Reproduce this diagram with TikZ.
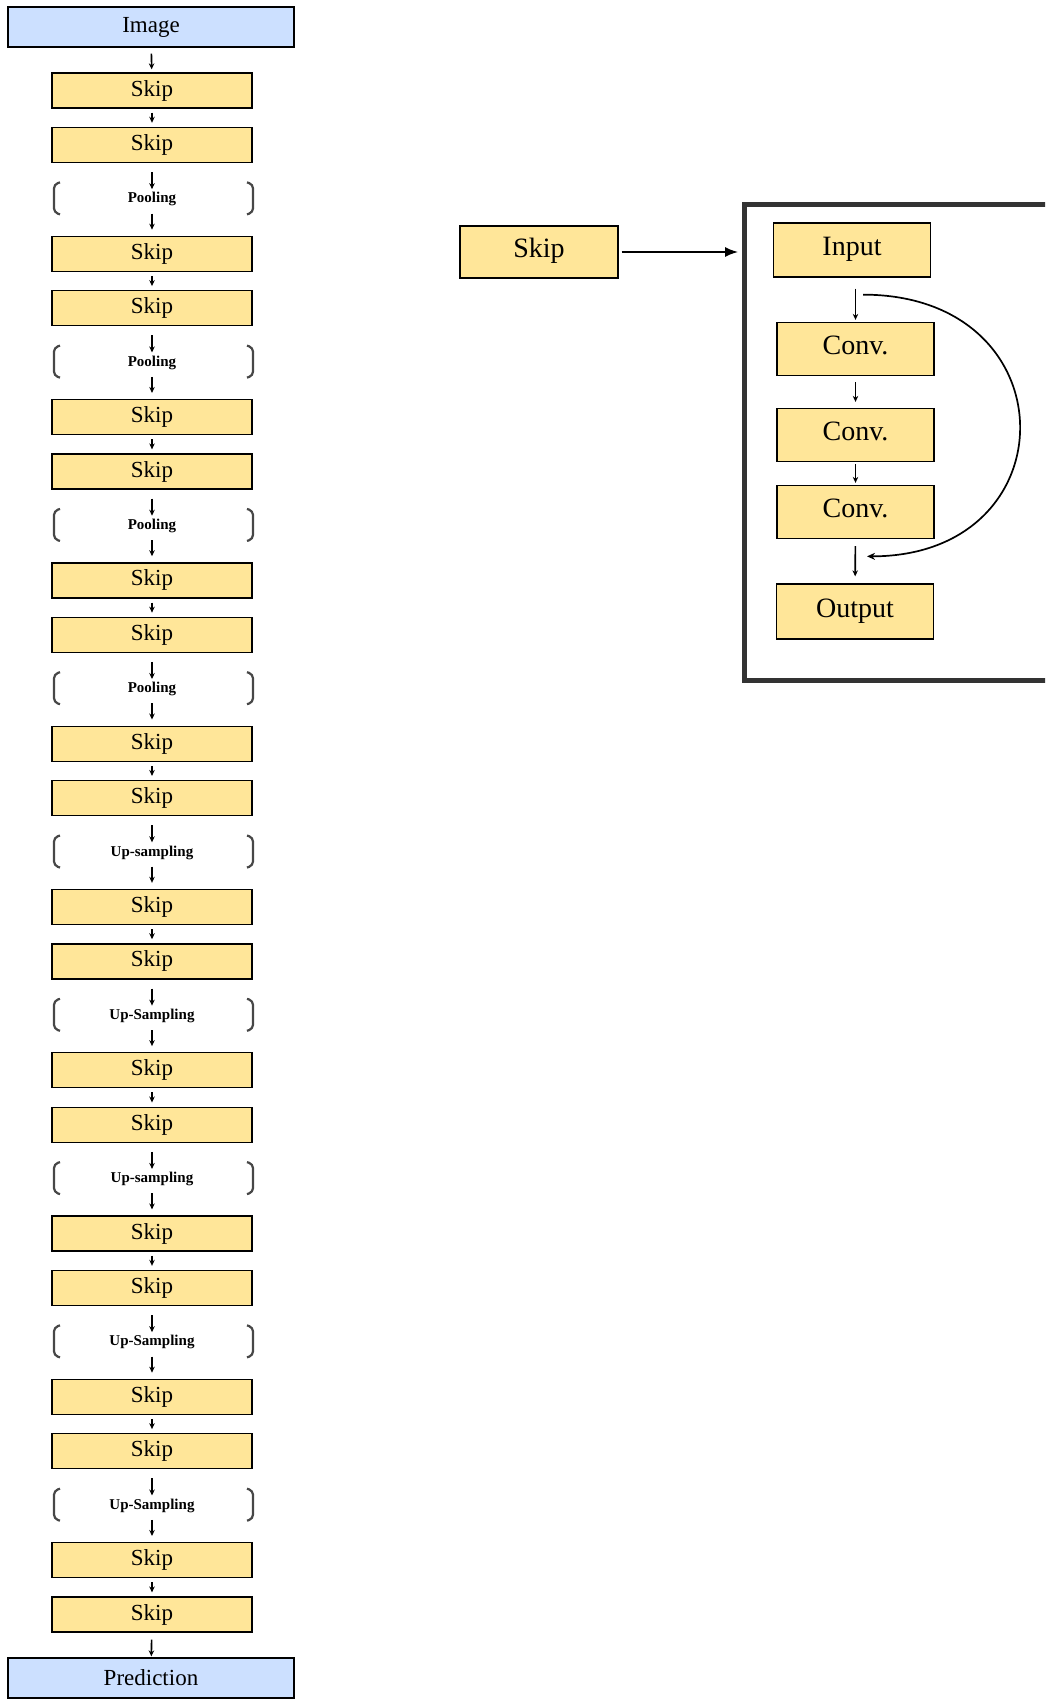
\documentclass[tikz,border=0pt]{standalone}
\usepackage{fontspec}
\setmainfont{Liberation Serif}
\usepackage{tikz}
\usetikzlibrary{arrows.meta,positioning,calc}

\definecolor{skipfill}{HTML}{FFE699}
\definecolor{endfill}{HTML}{CCE0FF}

\begin{document}
\begin{tikzpicture}[
  x=1pt, y=-1pt,
  box/.style={draw, line width=1.3pt, inner sep=0pt, align=center},
  skipbox/.style={box, fill=skipfill, minimum width=200pt, minimum height=35pt,
    font=\fontsize{23}{27}\selectfont},
  endbox/.style={box, fill=endfill, minimum width=286pt, minimum height=40pt,
    font=\fontsize{23}{27}\selectfont},
  poolbox/.style={inner sep=0pt, minimum height=20pt,
    font=\fontsize{15}{18}\selectfont\bfseries},
  blockbox/.style={box, fill=skipfill, minimum width=157pt, minimum height=53pt,
    text height=19pt, text depth=8pt, font=\fontsize{28}{33}\selectfont},
  link/.style={-{Stealth[length=6pt,width=5.5pt]}, line width=1.6pt},
  bigarrow/.style={-{Latex[length=13pt,width=10pt]}, line width=1.5pt},
  curvearrow/.style={-{Stealth[length=8pt,width=7pt]}, line width=1.7pt},
  brack/.style={draw=black!72, line width=2.2pt, rounded corners=4pt}
]
\useasboundingbox (0,0) rectangle (1045,1699);
\clip (0,0) rectangle (1045,1699);

% left column: the network
\node[endbox] (n0) at (151,27) {Image};

\foreach \k/\lab [count=\i, remember=\i as \j (initially 0), remember=\k as \pk (initially 2)] in
  {0/Skip, 0/Skip, 1/Pooling, 0/Skip, 0/Skip, 1/Pooling, 0/Skip, 0/Skip, 1/Pooling,
   0/Skip, 0/Skip, 1/Pooling, 0/Skip, 0/Skip, 1/Up-sampling, 0/Skip, 0/Skip,
   1/Up-Sampling, 0/Skip, 0/Skip, 1/Up-sampling, 0/Skip, 0/Skip, 1/Up-Sampling,
   0/Skip, 0/Skip, 1/Up-Sampling, 0/Skip, 0/Skip}
{
  \ifnum\k=0
    \node[skipbox] (n\i) at (152,{90.5+54.43*(\i-1)}) {\lab};
  \else
    \node[poolbox] (n\i) at (152,{90.5+54.43*(\i-1)}) {\lab};
    \draw[brack] ($(n\i)+(-92,-17)$) -- ++(-6,2) -- ++(0,28) -- ++(6,2);
    \draw[brack] ($(n\i)+(95,-17)$) -- ++(6,2) -- ++(0,28) -- ++(-6,2);
  \fi
  \ifnum\pk\k=0 \draw[link, shorten <=4pt, shorten >=4pt] (n\j) -- (n\i); \fi
  \ifnum\pk\k=1 \draw[link, shorten <=9pt] (n\j) -- (n\i); \fi
  \ifnum\pk\k=10 \draw[link, shorten <=4pt, shorten >=6pt] (n\j) -- (n\i); \fi
  \ifnum\pk\k=20 \draw[link, shorten <=6pt, shorten >=3pt] (n\j) -- (n\i); \fi
}

\node[endbox] (pred) at (151,1678) {Prediction};
\draw[link, shorten <=7pt, shorten >=1pt] (n29) -- (pred);

% right: inside a skip block
\node[blockbox, minimum width=158pt, minimum height=52pt] (rskip) at (539,252) {Skip};
\node[draw=black!80, line width=5pt, minimum width=356pt, minimum height=476pt] (block) at (922.5,442.5) {};

\node[blockbox, minimum height=54pt] (input) at (852,250) {Input};
\node[blockbox] (conv1) at (855.5,349) {Conv.};
\node[blockbox] (conv2) at (855.5,435) {Conv.};
\node[blockbox] (conv3) at (855.5,512) {Conv.};
\node[blockbox, minimum height=55pt] (output) at (855,611.5) {Output};

\draw[bigarrow, shorten <=3pt, shorten >=4pt] (rskip.east) -- (rskip.east -| block.west);

\draw[link, shorten <=11pt, shorten >=2pt] (conv1.north |- input.south) -- (conv1.north);
\draw[link, shorten <=6pt, shorten >=6pt] (conv1) -- (conv2);
\draw[link, shorten <=2pt, shorten >=2pt] (conv2) -- (conv3);
\draw[link, shorten <=7pt, shorten >=7pt] (conv3) -- (output);

\coordinate (skipfrom) at ($(input.south)+(11,17)$);
\coordinate (skipto) at ($(output.north)+(12,-27)$);
\draw[curvearrow] (skipfrom) .. controls ($(skipfrom)+(208,0)$) and ($(skipto)+(204,0)$) .. (skipto);

\end{tikzpicture}
\end{document}
